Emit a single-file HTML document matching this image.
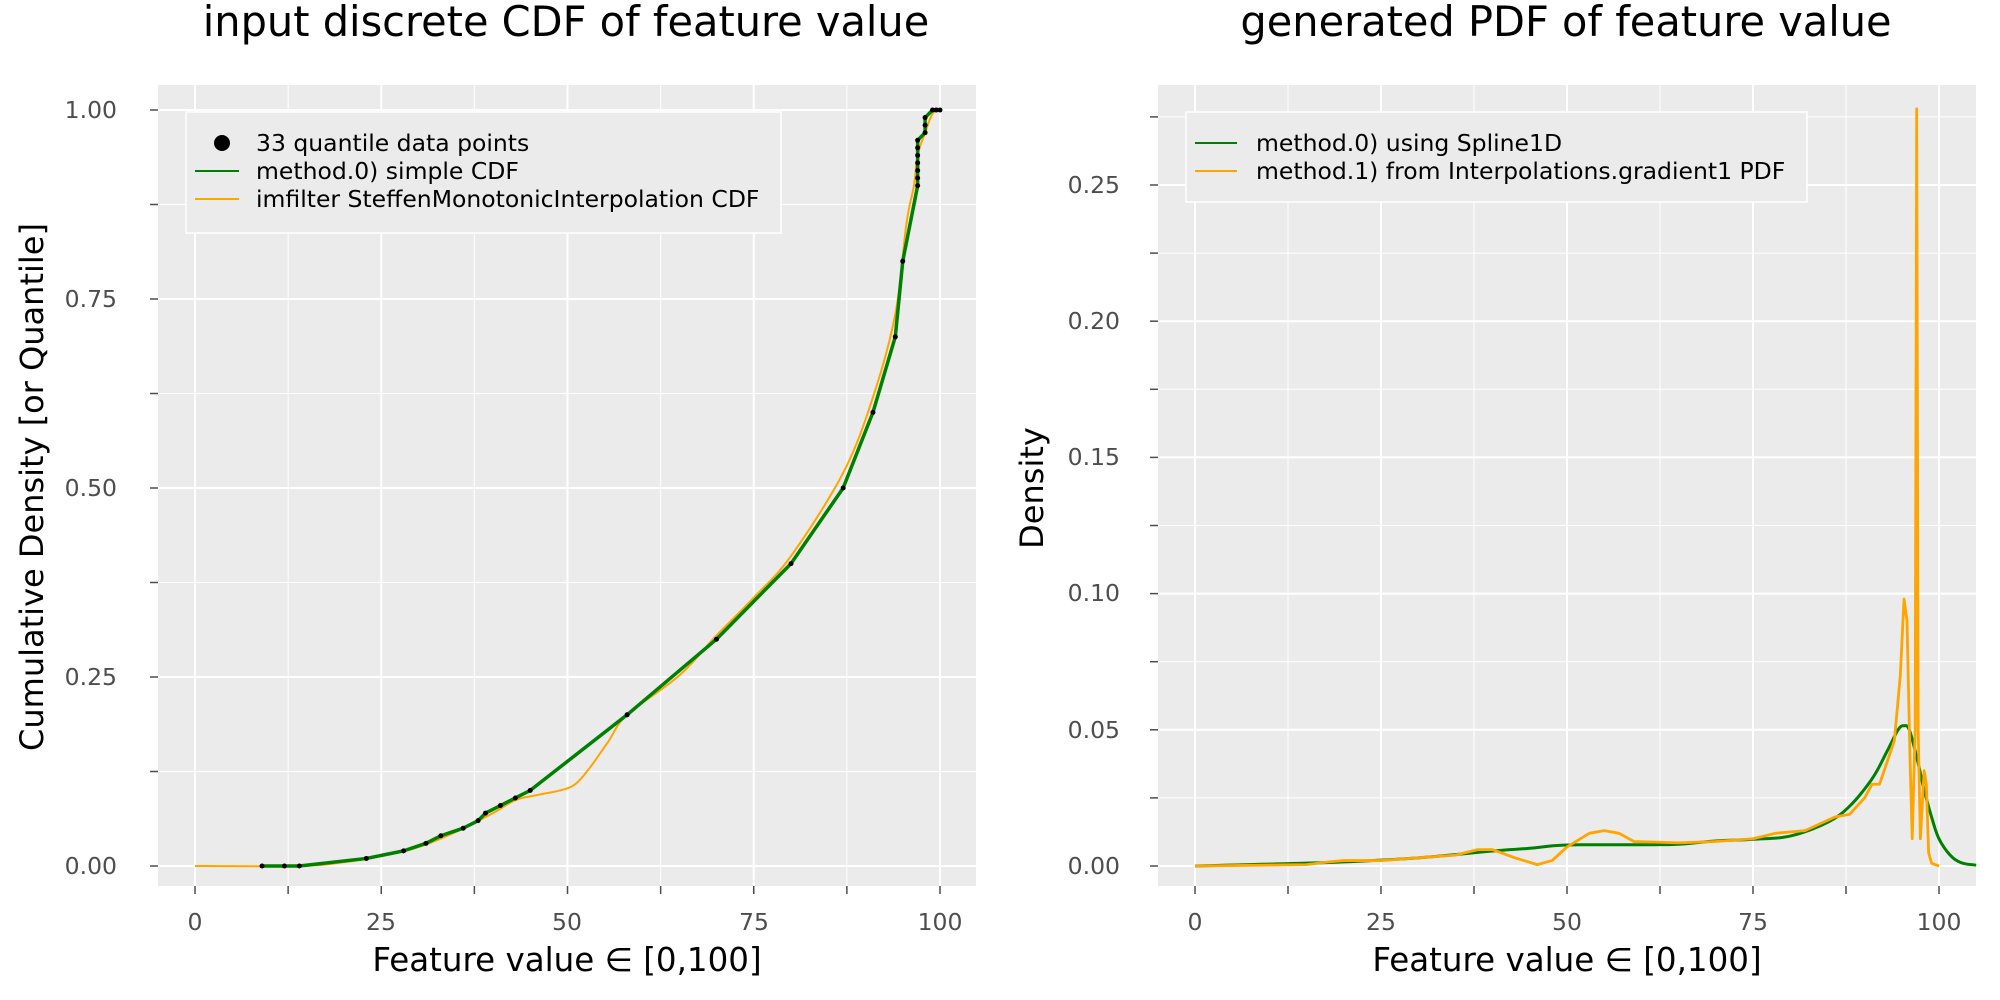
<!DOCTYPE html>
<html><head><meta charset="utf-8"><style>
body{margin:0;background:#fff}
svg{display:block}
text{font-family:"DejaVu Sans","Liberation Sans",sans-serif}
.tk{fill:#4d4d4d;font-size:23.5px}
</style></head><body>
<svg id="s" width="2000" height="1000" xmlns="http://www.w3.org/2000/svg">
<rect x="158" y="85" width="818" height="801" fill="#ebebeb"/>
<rect x="1158" y="85" width="818" height="801" fill="#ebebeb"/>
<g id="grid"></g>
<g id="series"></g>
<text x="566" y="36" font-size="41.5" text-anchor="middle">input discrete CDF of feature value</text>
<text x="1566" y="36" font-size="41.5" text-anchor="middle">generated PDF of feature value</text>
<text x="567" y="971" font-size="32.5" text-anchor="middle">Feature value ∈ [0,100]</text>
<text x="1567" y="971" font-size="32.5" text-anchor="middle">Feature value ∈ [0,100]</text>
<text transform="translate(43,487) rotate(-90)" font-size="32" text-anchor="middle">Cumulative Density [or Quantile]</text>
<text transform="translate(1043,488) rotate(-90)" font-size="32" text-anchor="middle">Density</text>
<g class="tk" text-anchor="end">
<text x="117" y="118">1.00</text><text x="117" y="307">0.75</text><text x="117" y="496">0.50</text><text x="117" y="685">0.25</text><text x="117" y="874">0.00</text>
<text x="1120" y="193">0.25</text><text x="1120" y="329">0.20</text><text x="1120" y="465">0.15</text><text x="1120" y="601">0.10</text><text x="1120" y="738">0.05</text><text x="1120" y="874">0.00</text>
</g>
<g class="tk" text-anchor="middle">
<text x="195" y="930">0</text><text x="381" y="930">25</text><text x="567" y="930">50</text><text x="754" y="930">75</text><text x="940" y="930">100</text>
<text x="1195" y="930">0</text><text x="1381" y="930">25</text><text x="1567" y="930">50</text><text x="1753" y="930">75</text><text x="1939" y="930">100</text>
</g>
<rect x="186" y="112" width="595" height="121" fill="#ebebeb" stroke="#fff" stroke-width="1.5"/>
<circle cx="222" cy="143" r="8" fill="#000"/>
<line x1="195" y1="171" x2="239" y2="171" stroke="green" stroke-width="2"/>
<line x1="195" y1="199" x2="239" y2="199" stroke="orange" stroke-width="2"/>
<g font-size="23.5"><text x="256" y="151">33 quantile data points</text><text x="256" y="179">method.0) simple CDF</text><text x="256" y="207">imfilter SteffenMonotonicInterpolation CDF</text></g>
<rect x="1186" y="112" width="621" height="90" fill="#ebebeb" stroke="#fff" stroke-width="1.5"/>
<line x1="1195" y1="143" x2="1237" y2="143" stroke="green" stroke-width="2"/>
<line x1="1195" y1="171" x2="1237" y2="171" stroke="orange" stroke-width="2"/>
<g font-size="23.5"><text x="1256" y="151">method.0) using Spline1D</text><text x="1256" y="179">method.1) from Interpolations.gradient1 PDF</text></g>
</svg>
<script>
var NS="http://www.w3.org/2000/svg",g=document.getElementById('grid'),se=document.getElementById('series');
function el(p,t,a){var e=document.createElementNS(NS,t);for(var k in a)e.setAttribute(k,a[k]);p.appendChild(e);return e;}
var L={x0:195,xs:7.45,y0:866,ys:756},R={x0:1195,xs:7.44,y0:866,ys:2724};
function X(P,x){return P.x0+x*P.xs}function Y(P,y){return P.y0-y*P.ys}
[[L,158,976,[0,.125,.25,.375,.5,.625,.75,.875,1]],[R,1158,1976,[0,.025,.05,.075,.1,.125,.15,.175,.2,.225,.25,.275]]].forEach(function(c){
 var P=c[0];
 c[3].forEach(function(v,i){var y=Y(P,v);if(y<85)return;var maj=(i%2==0);
  el(g,'line',{x1:c[1],x2:c[2],y1:y,y2:y,stroke:'#fff','stroke-width':maj?2:1});
  el(g,'line',{x1:c[1]-8,x2:c[1],y1:y,y2:y,stroke:'#4d4d4d','stroke-width':1.5});});
 for(var i=0;i<=9;i++){var v=i*12.5,x=X(P,v);if(x>c[2])continue;var maj=(i%2==0);
  el(g,'line',{x1:x,x2:x,y1:85,y2:886,stroke:'#fff','stroke-width':maj?2:1});
  el(g,'line',{x1:x,x2:x,y1:886,y2:894,stroke:'#4d4d4d','stroke-width':1.5});}
});
function path(P,pts,col,w){el(se,'polyline',{points:pts.map(function(p){return X(P,p[0])+','+Y(P,p[1])}).join(' '),fill:'none',stroke:col,'stroke-width':w,'stroke-linejoin':'round'});}
function smooth(pts){var o=[];for(var i=0;i<pts.length-1;i++){var p0=pts[Math.max(i-1,0)],p1=pts[i],p2=pts[i+1],p3=pts[Math.min(i+2,pts.length-1)];
 for(var t=0;t<1;t+=0.1){var t2=t*t,t3=t2*t;var f=function(a,b,c,d){return 0.5*(2*b+(-a+c)*t+(2*a-5*b+4*c-d)*t2+(-a+3*b-3*c+d)*t3)};o.push([f(p0[0],p1[0],p2[0],p3[0]),f(p0[1],p1[1],p2[1],p3[1])]);}}
 o.push(pts[pts.length-1]);return o;}
var q=[[9,0],[12,0],[14,0],[23,.01],[28,.02],[31,.03],[33,.04],[36,.05],[38,.06],[39,.07],[41,.08],[43,.09],[45,.1],[58,.2],[70,.3],[80,.4],[87,.5],[91,.6],[94,.7],[95,.8],[97,.9],[97,.91],[97,.92],[97,.93],[97,.94],[97,.95],[97,.96],[98,.97],[98,.98],[98,.99],[99,1],[99.5,1],[100,1]];
var oc=[[0,0],[14,0],[20,.005],[25,.013],[30,.025],[35,.045],[40,.07],[43,.087],[46,.094],[49,.1],[51,.108],[53,.13],[55.5,.165],[58,.2],[65,.252],[70,.305],[75,.355],[80,.41],[87,.52],[91,.62],[94,.73],[95.5,.85],[96.5,.9],[97,.94],[98,.97],[99,.995],[100,1]];
path(L,smooth(oc),'orange',2);
path(L,q,'green',3.5);
q.forEach(function(p){el(se,'circle',{cx:X(L,p[0]),cy:Y(L,p[1]),r:2.5,fill:'#000'})});
var gp=[[0,0],[10,.0007],[20,.0015],[30,.003],[40,.0055],[45,.0065],[50,.0077],[60,.0078],[65,.008],[70,.0092],[75,.0098],[80,.011],[85,.016],[88,.022],[91,.032],[93,.042],[94.5,.05],[95.3,.0515],[96,.05],[97,.04],[98,.028],[99,.018],[100,.01],[101.5,.004],[103,.0012],[105,.0003]];
path(R,smooth(gp),'green',3);
var op=[[0,0],[15,.0005],[18,.0015],[20,.002],[25,.002],[30,.003],[35,.004],[38,.006],[40,.006],[43,.003],[46,.0005],[48,.002],[50,.007],[53,.012],[55,.013],[57,.012],[59,.009],[65,.0085],[70,.009],[75,.01],[78,.012],[82,.013],[86,.018],[88,.019],[90,.025],[91,.03],[92,.03],[93,.038],[94,.046],[94.8,.07],[95.3,.098],[95.7,.09],[96.1,.04],[96.4,.01],[96.8,.05],[97,.278],[97.2,.05],[97.5,.01],[98,.035],[98.3,.03],[98.6,.005],[99,.001],[100,0]];
path(R,op,'orange',2.8);
</script>
</body></html>
